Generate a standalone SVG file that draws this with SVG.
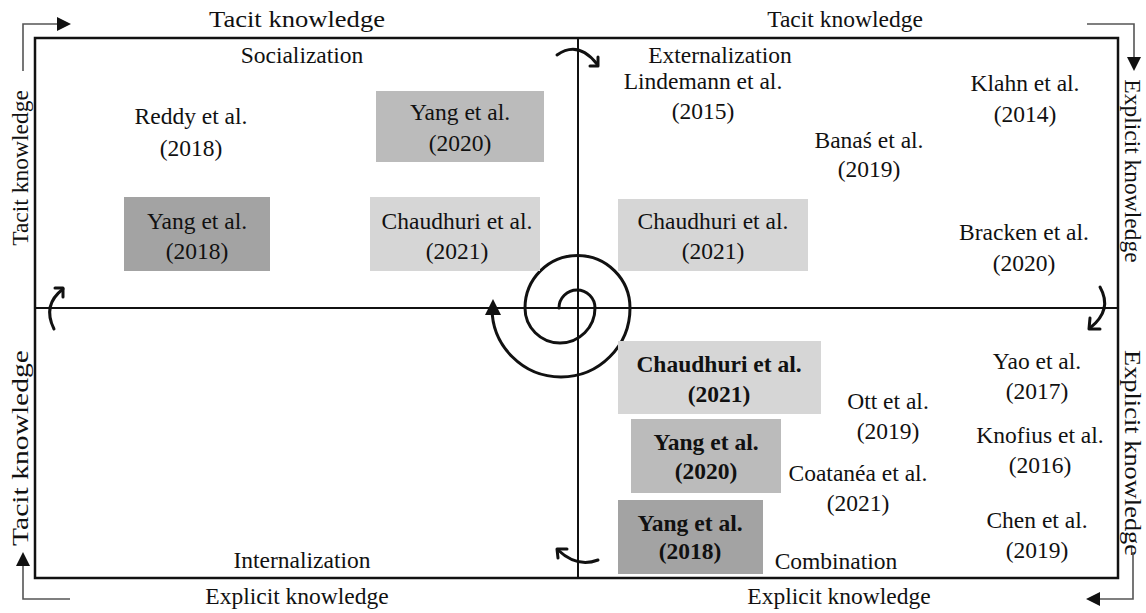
<svg xmlns="http://www.w3.org/2000/svg" width="1146" height="613" viewBox="0 0 1146 613">
<style>
text{font-family:"Liberation Serif","Times New Roman",serif;font-size:23.5px;fill:#111;text-anchor:middle}
.b{font-weight:bold}
.frame{fill:none;stroke:#111;stroke-width:2.5}
.axis{stroke:#111;stroke-width:2}
.corner{fill:none;stroke:#555;stroke-width:1.6}
.tri{fill:#111}
.cur{fill:none;stroke:#111;stroke-width:3;stroke-linecap:round;stroke-linejoin:round}
.lt{fill:#d6d6d6}.md{fill:#bbbbbb}.dk{fill:#a3a3a3}
</style>
<rect x="0" y="0" width="1146" height="613" fill="#fff"/>
<g id="frame">
<rect class="frame" x="35" y="38" width="1083" height="540"/>
<line class="axis" x1="578" y1="38" x2="578" y2="578"/>
<line class="axis" x1="35" y1="308" x2="1118" y2="308"/>
</g>
<g id="axis-labels">
<text x="297" y="27" textLength="176" lengthAdjust="spacingAndGlyphs">Tacit knowledge</text>
<text x="845" y="27">Tacit knowledge</text>
<text x="297" y="604">Explicit knowledge</text>
<text x="839" y="604">Explicit knowledge</text>
<text transform="translate(28,168) rotate(-90)">Tacit knowledge</text>
<text transform="translate(28,448) rotate(-90)" textLength="196" lengthAdjust="spacingAndGlyphs">Tacit knowledge</text>
<text transform="translate(1125,171) rotate(90)">Explicit knowledge</text>
<text transform="translate(1125,453) rotate(90)" textLength="206" lengthAdjust="spacingAndGlyphs">Explicit knowledge</text>
</g>
<g id="quadrant-titles">
<text x="302" y="63">Socialization</text>
<text x="720" y="63">Externalization</text>
<text x="302" y="568">Internalization</text>
<text x="836" y="569">Combination</text>
</g>
<g id="connectors">
<polyline class="corner" points="23,71 23,24 58,24"/>
<polygon class="tri" points="57,17 71,24 57,31"/>
<polyline class="corner" points="1087,24 1134,24 1134,58"/>
<polygon class="tri" points="1127,57 1134,71 1141,57"/>
<polyline class="corner" points="70,599 23,599 23,565"/>
<polygon class="tri" points="16,566 23,552 30,566"/>
<polyline class="corner" points="1133,552 1133,599 1099,599"/>
<polygon class="tri" points="1100,592 1086,599 1100,606"/>
<path class="cur" d="M557,55 Q578,40 597,64"/>
<polyline class="cur" points="590,66 598,66 598,57"/>
<path class="cur" d="M54,329 Q42,305 63,289"/>
<polyline class="cur" points="55,288 63,288 63,297"/>
<path class="cur" d="M1100,287 Q1113,310 1090,328"/>
<polyline class="cur" points="1090,318 1089,329 1100,329"/>
<path class="cur" d="M598,560 Q577,568 558,550"/>
<polyline class="cur" points="567,549 557,549 558,558"/>
<path class="cur" d="M559,308 A18,18 0 0 1 595,308 A35,35 0 0 1 525,308 A52.5,52.5 0 0 1 630,308 A69,69 0 0 1 492,308"/>
<polygon class="tri" points="485,315 493,299 501,315"/>
</g>
<g id="reddy2018"><text x="191" y="124">Reddy et al.</text><text x="191" y="156">(2018)</text></g>
<g id="yang2020-soc"><rect class="md" x="376" y="91" width="168" height="71"/><text x="460" y="120">Yang et al.</text><text x="460" y="151">(2020)</text></g>
<g id="yang2018-soc"><rect class="dk" x="124" y="197" width="146" height="74"/><text x="197" y="229">Yang et al.</text><text x="197" y="259">(2018)</text></g>
<g id="chaudhuri2021-soc"><rect class="lt" x="370" y="197" width="170" height="74"/><text x="457" y="229">Chaudhuri et al.</text><text x="457" y="259">(2021)</text></g>
<g id="lindemann2015"><text x="703" y="89">Lindemann et al.</text><text x="703" y="119">(2015)</text></g>
<g id="klahn2014"><text x="1025" y="91">Klahn et al.</text><text x="1025" y="122">(2014)</text></g>
<g id="banas2019"><text x="869" y="148">Banaś et al.</text><text x="869" y="177">(2019)</text></g>
<g id="chaudhuri2021-ext"><rect class="lt" x="618" y="199" width="190" height="72"/><text x="713" y="229">Chaudhuri et al.</text><text x="713" y="259">(2021)</text></g>
<g id="bracken2020"><text x="1024" y="240">Bracken et al.</text><text x="1024" y="271">(2020)</text></g>
<g id="chaudhuri2021-com"><rect class="lt" x="618" y="341" width="203" height="73"/><text class="b" x="719" y="372">Chaudhuri  et al.</text><text class="b" x="719" y="402">(2021)</text></g>
<g id="yang2020-com"><rect class="md" x="631" y="419" width="150" height="74"/><text class="b" x="706" y="450">Yang et al.</text><text class="b" x="706" y="479">(2020)</text></g>
<g id="yang2018-com"><rect class="dk" x="618" y="500" width="145" height="74"/><text class="b" x="690" y="531">Yang et al.</text><text class="b" x="690" y="559">(2018)</text></g>
<g id="yao2017"><text x="1037" y="369">Yao et al.</text><text x="1037" y="399">(2017)</text></g>
<g id="ott2019"><text x="888" y="409">Ott et al.</text><text x="888" y="439">(2019)</text></g>
<g id="knofius2016"><text x="1040" y="443">Knofius et al.</text><text x="1040" y="473">(2016)</text></g>
<g id="coatanea2021"><text x="858" y="481">Coatanéa et al.</text><text x="858" y="511">(2021)</text></g>
<g id="chen2019"><text x="1037" y="528">Chen et al.</text><text x="1037" y="558">(2019)</text></g>
</svg>
